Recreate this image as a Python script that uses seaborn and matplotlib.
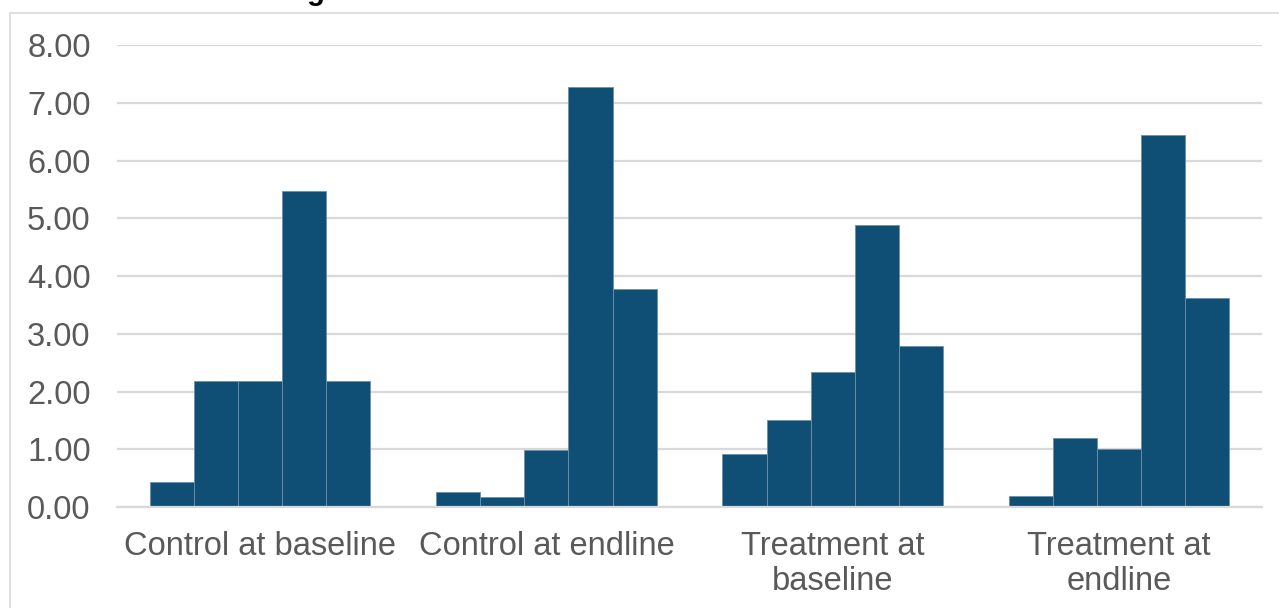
import matplotlib.pyplot as plt
import numpy as np
import pandas as pd
import seaborn as sns
from matplotlib.patches import Rectangle

# values
groups = ["Control at baseline", "Control at endline", "Treatment at\nbaseline", "Treatment at\nendline"]
bins = ["1", "2", "3", "4", "5"]
control_baseline = [0.43, 2.19, 2.19, 5.48, 2.19]
control_endline = [0.26, 0.17, 0.99, 7.28, 3.77]
treatment_baseline = [0.92, 1.51, 2.33, 4.89, 2.79]
treatment_endline = [0.19, 1.20, 1.00, 6.44, 3.62]
title = "Figure 3: Distribution of Mean Scores in Each Round"

bar_color = "#0F4F75"

rows = []
for g, vals in zip(groups, [control_baseline, control_endline, treatment_baseline, treatment_endline]):
    for b, v in zip(bins, vals):
        rows.append({"group": g, "bin": b, "value": v})
df = pd.DataFrame(rows)

sns.set_style("white")
plt.rcParams["font.family"] = ["Liberation Sans", "DejaVu Sans"]

fig = plt.figure(figsize=(12.79, 6.08), dpi=100)
ax = fig.add_axes([0.0915, 0.166, 0.8952, 0.760])

sns.barplot(
    data=df,
    x="group",
    y="value",
    hue="bin",
    palette=[bar_color] * len(bins),
    saturation=1,
    width=0.77,
    gap=0,
    edgecolor="#6F8FA8",
    linewidth=0.6,
    legend=False,
    ax=ax,
)

ax.set_ylim(0, 8)
ax.set_yticks(np.arange(0, 9, 1))
ax.set_yticklabels([f"{v:.2f}" for v in range(9)])
ax.set_xlim(-0.5, len(groups) - 0.5)
ax.yaxis.grid(True, color="#D9D9D9", linewidth=1.6)
ax.set_axisbelow(True)
for s in ["top", "right", "left"]:
    ax.spines[s].set_visible(False)
ax.spines["bottom"].set_color("#D9D9D9")
ax.spines["bottom"].set_linewidth(1.6)
ax.tick_params(axis="y", length=0, labelsize=23.5, colors="#595959", pad=19)
ax.tick_params(axis="x", length=0, labelsize=23.5, colors="#595959", pad=17)
ax.set_xlabel("")
ax.set_ylabel("")

# chart frame (clipped at the right and bottom edges)
fig.patches.append(Rectangle((10 / 1279, -0.05), 1.2, 0.05 + 1 - 13 / 608,
                             transform=fig.transFigure, fill=False,
                             edgecolor="#D9D9D9", linewidth=1.2))

# title sits above the visible area, only descenders show
fig.text(0.505, 1.0, title, ha="center", va="baseline",
         fontsize=21, fontweight="bold", color="black")

fig.savefig("out.png", dpi=100)
